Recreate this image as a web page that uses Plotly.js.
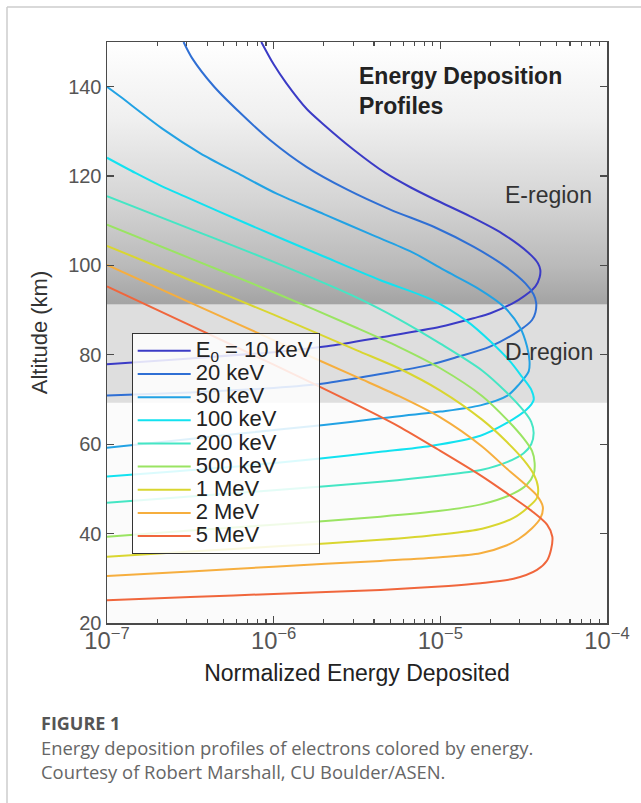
<!DOCTYPE html>
<html>
<head>
<meta charset="utf-8">
<script src="https://cdn.plot.ly/plotly-3.0.1.min.js"></script>
<style>
  html, body { margin: 0; padding: 0; background: #ffffff; }
  #chart { width: 641px; height: 803px; }
</style>
</head>
<body>
<div id="chart"></div>
<script>
// ---- Data ----
const seriesLabels = ['E<sub>0</sub> = 10 keV', '20 keV', '50 keV', '100 keV', '200 keV', '500 keV', '1 MeV', '2 MeV', '5 MeV'];

const energy_10keV = [8.43e-7, 1.0e-6, 1.19e-6, 1.58e-6, 2.0e-6, 3.02e-6, 4.68e-6, 6.61e-6, 9.33e-6, 1.51e-5, 2.34e-5, 3.39e-5, 3.85e-5, 3.98e-5, 3.94e-5, 3.72e-5, 2.95e-5, 2.0e-5, 1.58e-5, 1.0e-5, 4.37e-6, 2.09e-6, 1.0e-6, 3.16e-7, 1.0e-7];
const altitude_10keV = [150, 145, 140.8, 135, 131.5, 125.9, 120.7, 117.5, 114.7, 111, 107.2, 102.8, 100.5, 99, 97.3, 95.3, 92.3, 89.3, 88.2, 86.3, 83.9, 81.9, 80.6, 79.2, 77.9];

const energy_20keV = [2.88e-7, 3.24e-7, 4.37e-7, 6.31e-7, 9.55e-7, 1.58e-6, 2.75e-6, 5.01e-6, 9.33e-6, 1.58e-5, 2.45e-5, 3.24e-5, 3.63e-5, 3.76e-5, 3.72e-5, 3.55e-5, 3.02e-5, 2.0e-5, 1.26e-5, 8.51e-6, 4.37e-6, 2.0e-6, 1.0e-6, 3.16e-7, 1.0e-7];
const altitude_20keV = [150, 146.4, 140.1, 134.1, 128, 122, 117, 112.5, 108.5, 104.2, 99.8, 96, 93.5, 91.6, 89.5, 87.8, 85.6, 81.9, 79.5, 77.7, 75.7, 73.6, 72.6, 71.6, 70.9];

const energy_50keV = [1.0e-7, 1.20e-7, 2.19e-7, 3.63e-7, 6.03e-7, 1.05e-6, 2.0e-6, 3.80e-6, 6.76e-6, 1.05e-5, 1.66e-5, 2.40e-5, 3.02e-5, 3.31e-5, 3.43e-5, 3.39e-5, 2.95e-5, 2.51e-5, 1.74e-5, 1.0e-5, 4.37e-6, 2.0e-6, 6.31e-7, 2.51e-7, 1.0e-7];
const altitude_50keV = [140, 137.8, 130.4, 125.1, 120.7, 116, 111.5, 107, 103, 99, 95, 90.8, 86, 81.9, 78.5, 76.3, 73.3, 70.8, 68.7, 67.3, 65.8, 64.3, 62.4, 60.8, 59.2];

const energy_100keV = [1.0e-7, 1.48e-7, 2.14e-7, 2.95e-7, 6.76e-7, 2.0e-6, 4.37e-6, 8.91e-6, 1.45e-5, 2.0e-5, 2.63e-5, 3.09e-5, 3.51e-5, 3.63e-5, 3.28e-5, 2.49e-5, 1.74e-5, 8.71e-6, 4.37e-6, 1.91e-6, 6.31e-7, 2.51e-7, 1.0e-7];
const altitude_100keV = [124.1, 120.7, 117.7, 115.4, 109.5, 102, 96.7, 92.3, 87.5, 83, 78.5, 75.1, 72.2, 69.9, 67.7, 64.7, 61.9, 59.6, 58.3, 56.8, 55.1, 53.9, 52.8];

const energy_200keV = [1.0e-7, 3.16e-7, 1.0e-6, 3.16e-6, 5.62e-6, 1.0e-5, 1.78e-5, 2.51e-5, 3.16e-5, 3.51e-5, 3.63e-5, 3.51e-5, 3.16e-5, 2.51e-5, 1.78e-5, 1.0e-5, 4.37e-6, 1.0e-6, 3.16e-7, 1.0e-7];
const altitude_200keV = [115.5, 108.2, 100.8, 92.8, 88, 82.5, 76.5, 71.5, 67.5, 65, 62.5, 60, 58, 56, 54.3, 53, 51.6, 49.7, 48.3, 46.9];

const energy_500keV = [1.0e-7, 3.16e-7, 1.0e-6, 3.16e-6, 5.62e-6, 1.0e-5, 1.78e-5, 2.51e-5, 3.16e-5, 3.55e-5, 3.68e-5, 3.63e-5, 3.31e-5, 2.75e-5, 1.78e-5, 1.0e-5, 4.37e-6, 1.0e-6, 3.16e-7, 1.0e-7];
const altitude_500keV = [109.1, 101.6, 94, 86, 81.8, 77, 70.8, 65.5, 61.3, 58.5, 55.8, 53.3, 51, 49, 46.6, 45.1, 43.8, 42, 40.7, 39.3];

const energy_1MeV = [1.0e-7, 3.16e-7, 1.0e-6, 3.16e-6, 5.62e-6, 1.0e-5, 1.78e-5, 2.51e-5, 3.16e-5, 3.63e-5, 3.85e-5, 3.80e-5, 3.39e-5, 2.75e-5, 1.78e-5, 1.0e-5, 4.37e-6, 1.0e-6, 3.16e-7, 1.0e-7];
const altitude_1MeV = [104.4, 96.7, 89, 81, 77, 72, 65.5, 60.5, 56.5, 53.3, 50.5, 48, 46, 43.5, 41.1, 39.8, 38.6, 37.1, 36, 34.8];

const energy_2MeV = [1.0e-7, 3.16e-7, 1.0e-6, 3.16e-6, 5.62e-6, 1.0e-5, 1.78e-5, 2.51e-5, 3.16e-5, 3.80e-5, 4.12e-5, 3.98e-5, 3.55e-5, 2.95e-5, 2.51e-5, 1.74e-5, 1.0e-5, 4.37e-6, 1.0e-6, 3.16e-7, 1.0e-7];
const altitude_2MeV = [100.1, 91.7, 83.3, 75, 70.8, 66, 59.5, 54.5, 51.3, 48.5, 46, 43.4, 41.2, 38.8, 37.4, 35.6, 34.7, 33.9, 32.6, 31.5, 30.5];

const energy_5MeV = [1.0e-7, 3.16e-7, 1.0e-6, 3.16e-6, 5.62e-6, 1.0e-5, 1.78e-5, 2.51e-5, 3.55e-5, 4.37e-5, 4.70e-5, 4.62e-5, 4.37e-5, 3.80e-5, 2.75e-5, 1.74e-5, 1.12e-5, 4.37e-6, 1.0e-6, 3.16e-7, 1.0e-7];
const altitude_5MeV = [95.3, 86.6, 77.8, 68.8, 64, 58.5, 52.8, 49, 45, 42, 39.3, 36.5, 34, 31.9, 29.9, 28.9, 28.3, 27.4, 26.5, 25.8, 25.1];

// Ionospheric regions (km)
const eRegion = [91.2, 150];
const dRegion = [69.3, 91.2];
const regionLabels = ['E-region', 'D-region'];
const regionLabelAltitudes = [115.8, 80.6];

const xTitle = 'Normalized Energy Deposited';
const yTitle = 'Altitude (km)';
const plotTitle = '<b>Energy Deposition</b><br><b>Profiles</b>';
const captionHead = 'FIGURE 1';
const captionLines = ['Energy deposition profiles of electrons colored by energy.', 'Courtesy of Robert Marshall, CU Boulder/ASEN.'];

// ---- Styling ----
const lineColors = ['#3b3bc6', '#2f6fd4', '#22a2e4', '#12e2f0', '#45e6c4', '#9ae462', '#d9d630', '#f6ae3e', '#f0663c'];

const energies = [energy_10keV, energy_20keV, energy_50keV, energy_100keV, energy_200keV, energy_500keV, energy_1MeV, energy_2MeV, energy_5MeV];
const altitudes = [altitude_10keV, altitude_20keV, altitude_50keV, altitude_100keV, altitude_200keV, altitude_500keV, altitude_1MeV, altitude_2MeV, altitude_5MeV];

const traces = seriesLabels.map((name, i) => ({
  type: 'scatter',
  mode: 'lines',
  x: energies[i],
  y: altitudes[i],
  name: '<span style="font-size:22px">' + name + '</span>',
  line: { color: lineColors[i], width: 2, shape: 'spline', smoothing: 0.8 },
  hoverinfo: 'skip'
}));

const gradSvg = "<svg xmlns='http://www.w3.org/2000/svg' width='10' height='100' viewBox='0 0 10 100' preserveAspectRatio='none'>" +
  "<defs><linearGradient id='g' x1='0' y1='0' x2='0' y2='1'>" +
  "<stop offset='0' stop-color='#ffffff'/><stop offset='0.3' stop-color='#efefef'/>" +
  "<stop offset='0.6' stop-color='#d5d5d5'/><stop offset='0.85' stop-color='#bababa'/><stop offset='1' stop-color='#a3a3a3'/>" +
  "</linearGradient></defs><rect x='0' y='0' width='10' height='100' fill='url(#g)'/></svg>";
const gradUri = 'data:image/svg+xml;charset=utf-8,' + encodeURIComponent(gradSvg);

const L = 107, T = 42, PW = 500, PH = 581, W = 641, H = 803;
const px2x = p => (p - L) / PW;
const py2y = p => (T + PH - p) / PH;

const axisCommon = {
  showgrid: false, zeroline: false, showline: true, linecolor: '#4a4a4a', linewidth: 1.5,
  mirror: 'ticks', ticks: 'inside', ticklen: 7, tickwidth: 1.2, tickcolor: '#4a4a4a'
};

const layout = {
  width: W, height: H,
  margin: { l: L, r: W - L - PW, t: T, b: H - T - PH },
  paper_bgcolor: '#ffffff',
  plot_bgcolor: '#fbfbfb',
  font: { family: 'Liberation Sans, Arial, sans-serif', color: '#333333' },
  showlegend: true,
  legend: {
    x: px2x(131.7), y: py2y(333.3), xanchor: 'left', yanchor: 'top',
    bgcolor: 'rgba(255,255,255,0.85)', bordercolor: '#333333', borderwidth: 1,
    font: { size: 15.5, color: '#222222' }, itemwidth: 53, tracegroupgap: 0
  },
  xaxis: Object.assign({}, axisCommon, {
    type: 'log', range: [-7, -4], dtick: 1, exponentformat: 'power',
    tickfont: { family: 'Liberation Sans, Arial, sans-serif', size: 19, color: '#555555' },
    ticklabelstandoff: -3,
    minor: { ticks: 'inside', ticklen: 4, tickcolor: '#4a4a4a', dtick: 'D1', showgrid: false },
    title: { text: xTitle, font: { size: 23, color: '#222222' }, standoff: 12 }
  }),
  yaxis: Object.assign({}, axisCommon, {
    range: [20, 150], tick0: 20, dtick: 20,
    tickfont: { family: 'Liberation Sans, Arial, sans-serif', size: 20, color: '#555555' },
    title: { text: yTitle, font: { size: 22, color: '#333333' }, standoff: 14 }
  }),
  images: [{
    source: gradUri, xref: 'paper', yref: 'y', x: 0, y: eRegion[1], sizex: 1, sizey: eRegion[1] - eRegion[0],
    xanchor: 'left', yanchor: 'top', sizing: 'stretch', layer: 'below'
  }],
  shapes: [
    { type: 'rect', xref: 'paper', yref: 'y', x0: 0, x1: 1, y0: dRegion[0], y1: dRegion[1], fillcolor: '#dedede', line: { width: 0 }, layer: 'below' },
    { type: 'line', xref: 'paper', yref: 'paper', x0: px2x(7), x1: px2x(W), y0: py2y(7), y1: py2y(7), line: { color: '#cccccc', width: 1.5 } },
    { type: 'line', xref: 'paper', yref: 'paper', x0: px2x(7), x1: px2x(7), y0: py2y(7), y1: py2y(H), line: { color: '#cccccc', width: 1.5 } }
  ],
  annotations: [
    { text: plotTitle, xref: 'paper', yref: 'paper', x: px2x(357), y: py2y(91.5), xanchor: 'left', yanchor: 'middle', align: 'left', showarrow: false, font: { size: 23, color: '#222222' } },
    { text: regionLabels[0], xref: 'paper', yref: 'y', x: px2x(548.5), y: regionLabelAltitudes[0], xanchor: 'center', yanchor: 'middle', showarrow: false, font: { size: 23, color: '#333333' } },
    { text: regionLabels[1], xref: 'paper', yref: 'y', x: px2x(549), y: regionLabelAltitudes[1], xanchor: 'center', yanchor: 'middle', showarrow: false, font: { size: 23, color: '#333333' } },
    { text: '<b>' + captionHead + '</b>', xref: 'paper', yref: 'paper', x: px2x(39), y: py2y(723), xanchor: 'left', yanchor: 'middle', showarrow: false, font: { family: 'Open Sans, sans-serif', size: 18, color: '#555555' } },
    { text: captionLines[0], xref: 'paper', yref: 'paper', x: px2x(39), y: py2y(747.5), xanchor: 'left', yanchor: 'middle', showarrow: false, font: { family: 'Open Sans, sans-serif', size: 18.4, color: '#666666' } },
    { text: captionLines[1], xref: 'paper', yref: 'paper', x: px2x(39), y: py2y(771), xanchor: 'left', yanchor: 'middle', showarrow: false, font: { family: 'Open Sans, sans-serif', size: 18.4, color: '#666666' } }
  ]
};

Plotly.newPlot('chart', traces, layout, { staticPlot: true, displayModeBar: false });
</script>
</body>
</html>
